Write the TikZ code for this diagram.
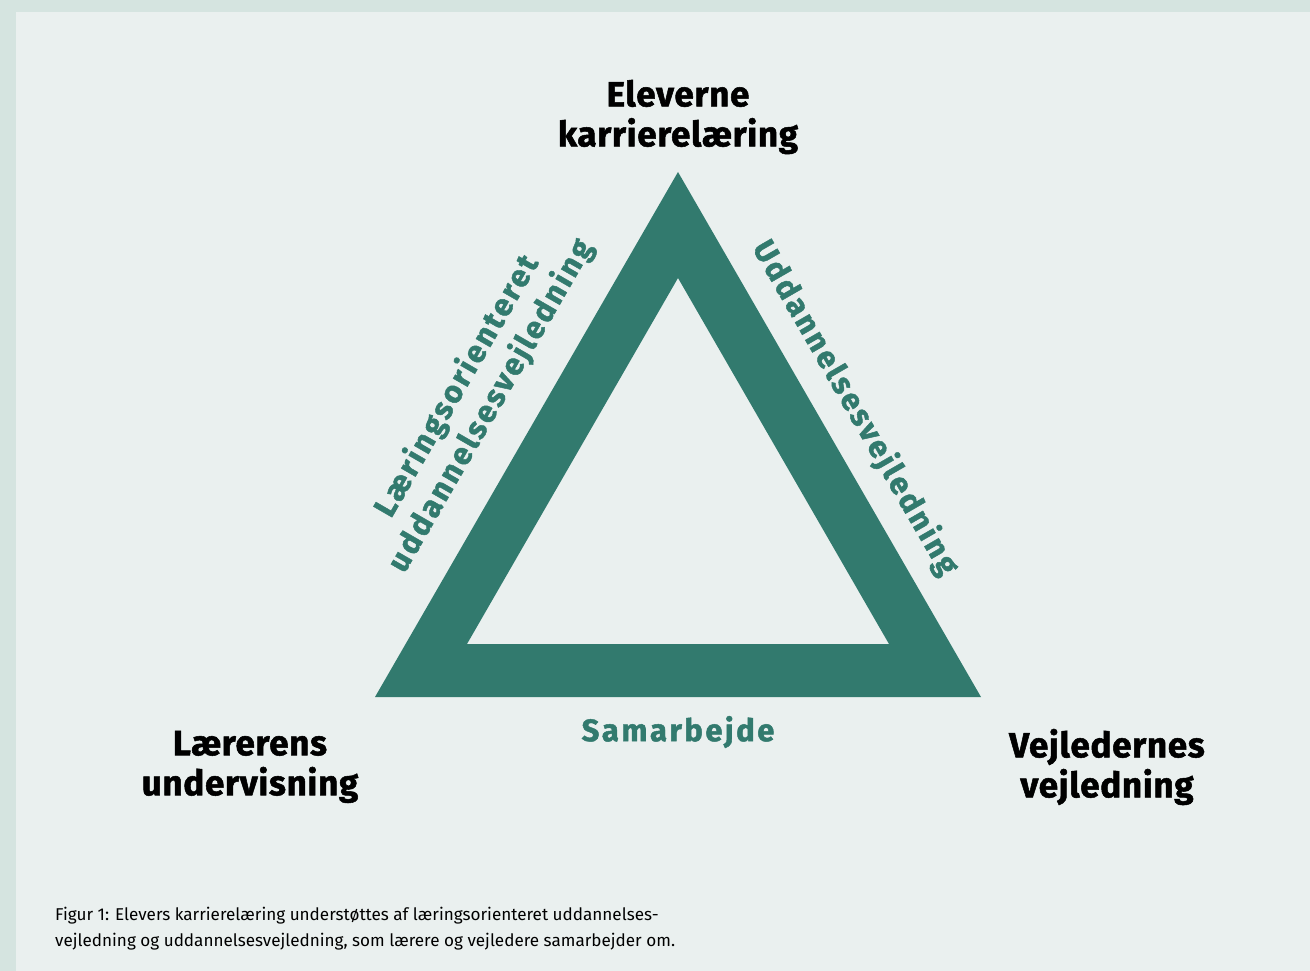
\documentclass[tikz,border=0pt]{standalone}
\usepackage{fontspec}
\setmainfont{Fira Sans}[BoldFeatures={FakeBold=1.5}]
\usepackage{tikz}

\definecolor{bgframe}{HTML}{D5E4E0}
\definecolor{bgpanel}{HTML}{EAF0EF}
\definecolor{tealgreen}{HTML}{327A6E}

\tikzset{
  corner/.style={font=\bfseries\fontsize{35}{40}\selectfont\addfontfeature{LetterSpace=2}, align=center, text=black, inner sep=0pt},
  side/.style={font=\bfseries\fontsize{31}{39}\selectfont\addfontfeature{LetterSpace=8}, align=center, text=tealgreen, inner sep=0pt},
  caption/.style={font=\fontsize{17.1}{26}\selectfont, align=left, anchor=west, inner sep=0pt}
}

\begin{document}
\begin{tikzpicture}[x=1pt,y=-1pt]
  \fill[bgframe] (0,0) rectangle (1310,971);
  \fill[bgpanel] (16,12) rectangle (1310,971);
  \useasboundingbox (0,0) rectangle (1310,971);
  % triangle
  \coordinate (top) at (678,172);
  \coordinate (left) at (375,697);
  \coordinate (right) at (981,697);
  \coordinate (itop) at (678,278);
  \coordinate (ileft) at (467,644);
  \coordinate (iright) at (889,644);
  \fill[tealgreen, even odd rule] (top) -- (left) -- (right) -- cycle
    (itop) -- (ileft) -- (iright) -- cycle;
  % corners
  \node[corner] (elever) at (678,117) {Eleverne\\karrierelæring};
  \node[corner] (laerer) at (250,767) {Lærerens\\undervisning};
  \node[corner] (vejleder) at (1107,767) {Vejledernes\\vejledning};
  % sides
  \node[side] (samarbejde) at (678,732) {Samarbejde};
  \node[side, rotate=60] (laering) at (474,396) {Læringsorienteret\\uddannelsesvejledning};
  \node[side, rotate=-60] (uddannelse) at (855,408) {Uddannelsesvejledning};
  % caption
  \node[caption] (figur) at (55,929) {Figur 1: Elevers karrierelæring understøttes af læringsorienteret uddannelses-\\vejledning og uddannelsesvejledning, som lærere og vejledere samarbejder om.};
\end{tikzpicture}
\end{document}
